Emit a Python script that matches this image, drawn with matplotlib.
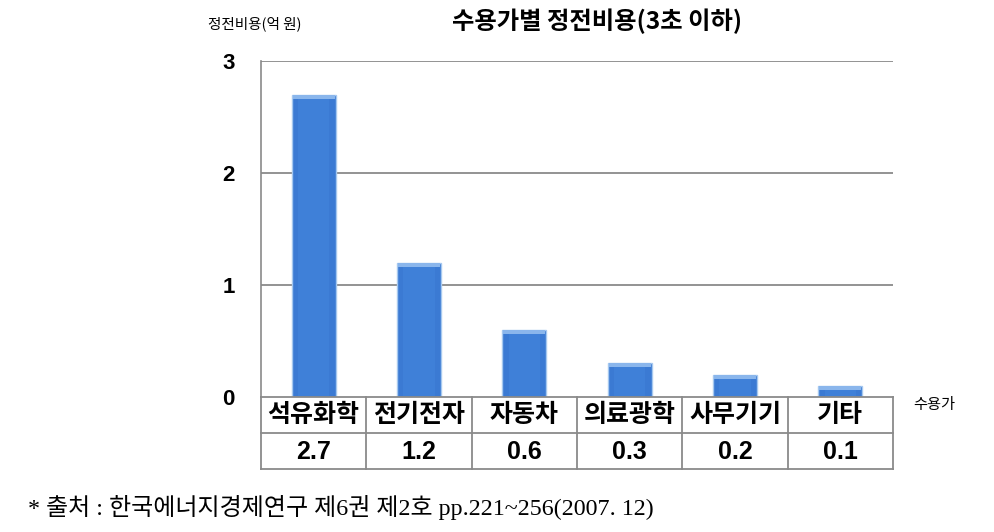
import matplotlib
matplotlib.use("Agg")
import matplotlib.pyplot as plt
import numpy as np

plt.rcParams['font.family'] = ['Noto Sans CJK KR', 'DejaVu Sans']

categories = ['석유화학', '전기전자', '자동차', '의료광학', '사무기기', '기타']
values = [2.7, 1.2, 0.6, 0.3, 0.2, 0.1]
value_labels = ['2.7', '1.2', '0.6', '0.3', '0.2', '0.1']
yticks = [0, 1, 2, 3]

W, H = 995, 532
fig = plt.figure(figsize=(W / 100, H / 100), dpi=100)

x0, x1 = 261, 893
y_zero, y_top = 397, 61
ax = fig.add_axes([x0 / W, (H - y_zero) / H, (x1 - x0) / W, (y_zero - y_top) / H])
n = len(categories)
x = np.arange(n)
ax.set_xlim(-0.5, n - 0.5)
ax.set_ylim(0, 3)

for yv in yticks[1:]:
    ax.axhline(yv, color='#8a8a8a', lw=1.3, zorder=1)

ax.bar(x, values, width=0.42, color='#3B7AD3', edgecolor='#a6c8ef', lw=1.0, zorder=3)
# inner lighter band to mimic bevel
ax.bar(x, values, width=0.30, color='#3F80D8', lw=0, zorder=4)
# top highlight cap
ax.bar(x, [0.035] * n, bottom=[v - 0.035 for v in values], width=0.40, color='#8ab6ec', lw=0, zorder=5)

for s in ['top', 'right', 'bottom']:
    ax.spines[s].set_visible(False)
ax.spines['left'].set_color('#8a8a8a')
ax.spines['left'].set_linewidth(1.2)
ax.set_xticks([])
ax.set_yticks(yticks)
ax.set_yticklabels([str(t) for t in yticks], fontsize=16, fontweight='bold',
                   family=['Liberation Sans', 'DejaVu Sans'])
ax.tick_params(axis='y', length=0, pad=19)

# table
y_tb = 469
tax = fig.add_axes([x0 / W, (H - y_tb) / H, (x1 - x0) / W, (y_tb - y_zero) / H])
tax.set_xlim(-0.5, n - 0.5)
tax.set_ylim(0, 2)
tax.axis('off')
lc = '#8a8a8a'
for yy in [0, 1, 2]:
    tax.plot([-0.5, n - 0.5], [yy, yy], color=lc, lw=1.3, clip_on=False)
for xx in np.arange(n + 1) - 0.5:
    tax.plot([xx, xx], [0, 2], color=lc, lw=1.3, clip_on=False)
for i in range(n):
    tax.text(x[i], 1.5, categories[i], ha='center', va='center', fontsize=18, fontweight='bold')
    tax.text(x[i], 0.47, value_labels[i], ha='center', va='center', fontsize=18, fontweight='bold',
             family=['Liberation Sans', 'DejaVu Sans'])

fig.text(597 / W, 1 - 21 / H, '수용가별 정전비용(3초 이하)', ha='center', va='center', fontsize=17.5, fontweight='bold')
fig.text(255 / W, 1 - 24 / H, '정전비용(억 원)', ha='center', va='center', fontsize=10.5)
fig.text(934 / W, 1 - 405 / H, '수용가', ha='center', va='center', fontsize=11)
fig.text(28 / W, 1 - 508 / H, '* 출처 : 한국에너지경제연구 제6권 제2호 pp.221~256(2007. 12)', ha='left', va='center',
         fontsize=17.3, family=['Liberation Serif', 'Noto Sans CJK KR'])

fig.savefig('out.png', dpi=100)
